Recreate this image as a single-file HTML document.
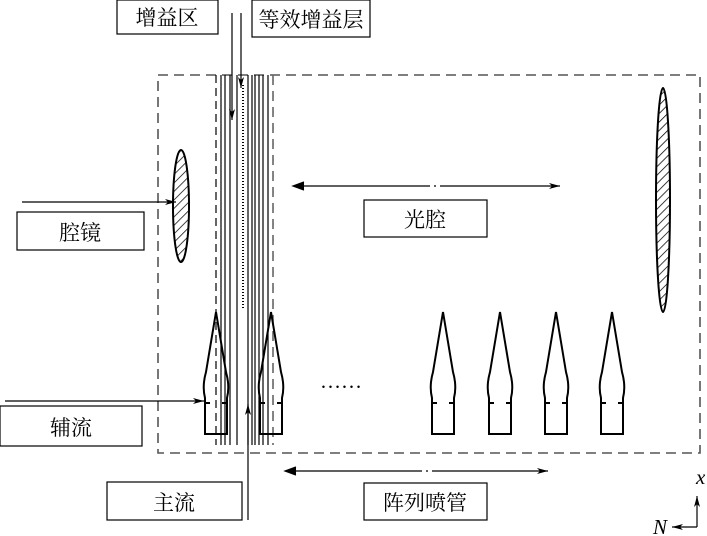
<!DOCTYPE html>
<html><head><meta charset="utf-8"><style>
html,body{margin:0;padding:0;background:#fff;}
svg{display:block;}
text{font-family:"Liberation Serif","Noto Serif CJK SC","Noto Sans CJK SC",serif;font-size:21px;fill:#000;}
</style></head><body>
<svg width="707" height="536" viewBox="0 0 707 536" xmlns="http://www.w3.org/2000/svg">
<defs>
<marker id="ah" markerWidth="12" markerHeight="8" refX="11" refY="4" orient="auto" markerUnits="userSpaceOnUse">
<path d="M0,1 L11,4 L0,7 L3,4 Z" fill="#000"/></marker>
<pattern id="hatch" width="6" height="6" patternUnits="userSpaceOnUse" patternTransform="rotate(45)">
<line x1="0" y1="0" x2="0" y2="6" stroke="#000" stroke-width="1.5"/></pattern>
</defs>
<rect x="158" y="75" width="542" height="378" fill="none" stroke="#555" stroke-width="1.6" stroke-dasharray="10,6"/>
<g stroke="#000" stroke-width="1.2">
<line x1="216" y1="75" x2="216" y2="445" stroke-dasharray="8,5"/>
<line x1="221" y1="75" x2="221" y2="445"/>
<line x1="225" y1="75" x2="225" y2="445"/>
<line x1="230" y1="75" x2="230" y2="445"/>
<line x1="237" y1="75" x2="237" y2="445"/>
<line x1="243" y1="85" x2="243" y2="310" stroke-dasharray="1,2" stroke-width="2"/>
<line x1="248" y1="75" x2="248" y2="445"/>
<line x1="252" y1="75" x2="252" y2="445"/>
<line x1="255" y1="75" x2="255" y2="445"/>
<line x1="259" y1="75" x2="259" y2="445"/>
<line x1="263" y1="75" x2="263" y2="445"/>
<line x1="268" y1="75" x2="268" y2="445"/>
<line x1="273" y1="75" x2="273" y2="445" stroke="#666" stroke-width="1.6" stroke-dasharray="10,6"/>
</g>
<ellipse cx="181" cy="206" rx="8" ry="56" fill="url(#hatch)" stroke="#000" stroke-width="2"/>
<ellipse cx="663" cy="200" rx="7" ry="112" fill="url(#hatch)" stroke="#000" stroke-width="2"/>
<g id="nozzles" fill="none" stroke="#000" stroke-width="2"></g>
<g stroke="#000" stroke-width="1.2" fill="none">
<line x1="22" y1="202" x2="176" y2="202" marker-end="url(#ah)"/>
<line x1="5" y1="401" x2="204" y2="401" marker-end="url(#ah)"/>
<line x1="232" y1="13" x2="232" y2="120" marker-end="url(#ah)"/>
<line x1="241" y1="13" x2="241" y2="88" marker-end="url(#ah)"/>
<line x1="248" y1="520" x2="248" y2="404" marker-end="url(#ah)"/>
<line x1="697" y1="527" x2="697" y2="496" marker-end="url(#ah)"/>
<line x1="697" y1="527" x2="672" y2="527" marker-end="url(#ah)"/>
<line x1="300" y1="186" x2="560" y2="186" marker-end="url(#ah)" stroke-dasharray="130,4,2,4"/>
<line x1="292" y1="471" x2="548" y2="471" marker-end="url(#ah)" stroke-dasharray="130,4,2,4"/>
<path d="M304,182 L293,186 L304,190" fill="#000"/>
<path d="M296,467 L285,471 L296,475" fill="#000"/>
</g>
<text x="320" y="388" font-size="18">……</text>
<g fill="#fff" stroke="#000" stroke-width="1.2">
<rect x="117" y="0" width="101" height="34"/>
<rect x="252" y="0" width="118" height="37"/>
<rect x="17" y="212" width="127" height="38"/>
<rect x="364" y="200" width="123" height="37"/>
<rect x="0" y="406" width="142" height="40"/>
<rect x="107" y="482" width="135" height="38"/>
<rect x="364" y="483" width="123" height="37"/>
</g>
<text x="167" y="25" text-anchor="middle">增益区</text>
<text x="311" y="27" text-anchor="middle">等效增益层</text>
<text x="80" y="240" text-anchor="middle">腔镜</text>
<text x="425" y="227" text-anchor="middle">光腔</text>
<text x="71" y="435" text-anchor="middle">辅流</text>
<text x="174" y="510" text-anchor="middle">主流</text>
<text x="425" y="510" text-anchor="middle">阵列喷管</text>
<text x="696" y="484" font-style="italic" font-size="18">x</text>
<text x="653" y="534" font-style="italic" font-size="18">N</text>
<script>
var g=document.getElementById('nozzles');
[216,271,443,500,556,612].forEach(function(c){
 var d='M'+c+',312 L'+(c-10)+',372 Q'+(c-14)+',386 '+(c-11)+',398 L'+(c-11)+',434 L'+(c+11)+',434 L'+(c+11)+',398 Q'+(c+14)+',386 '+(c+10)+',372 Z';
 var p=document.createElementNS('http://www.w3.org/2000/svg','path');p.setAttribute('d',d);g.appendChild(p);
 var t=document.createElementNS('http://www.w3.org/2000/svg','path');
 t.setAttribute('d','M'+(c-11)+',403 L'+(c-6)+',403 M'+(c+6)+',403 L'+(c+11)+',403');g.appendChild(t);
});
</script>
</svg>
</body></html>
